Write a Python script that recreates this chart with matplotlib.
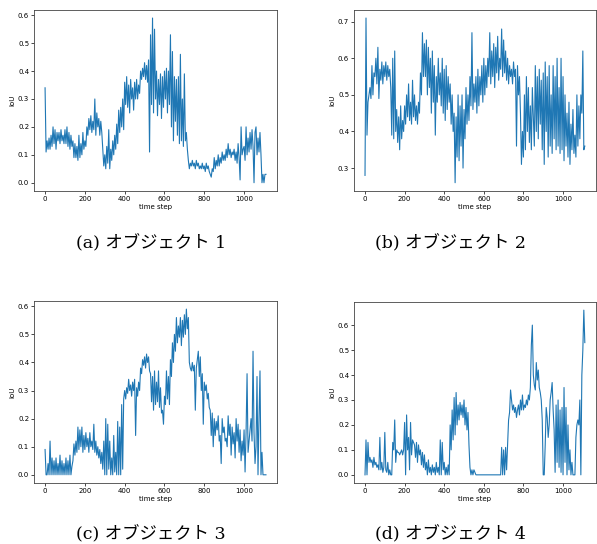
import matplotlib
matplotlib.use("Agg")
import matplotlib.pyplot as plt

# time step axis (sampled every 5 steps)
time_step = list(range(0, 1115, 5))

# IoU per object
iou_obj1 = [
    0.34, 0.11, 0.15, 0.12, 0.16, 0.12, 0.17, 0.13, 0.20, 0.14, 0.19, 0.12, 0.18, 0.15, 0.18, 0.14, 0.19, 0.15, 0.17, 0.14,
    0.19, 0.14, 0.20, 0.13, 0.18, 0.12, 0.17, 0.13, 0.15, 0.09, 0.14, 0.09, 0.13, 0.08, 0.17, 0.09, 0.14, 0.10, 0.18, 0.12,
    0.15, 0.13, 0.20, 0.17, 0.23, 0.19, 0.24, 0.18, 0.22, 0.19, 0.30, 0.17, 0.25, 0.20, 0.23, 0.17, 0.22, 0.18, 0.12, 0.06,
    0.10, 0.05, 0.13, 0.07, 0.19, 0.05, 0.12, 0.08, 0.15, 0.10, 0.17, 0.12, 0.21, 0.14, 0.26, 0.18, 0.27, 0.20, 0.30, 0.19,
    0.36, 0.28, 0.38, 0.27, 0.35, 0.25, 0.37, 0.30, 0.34, 0.26, 0.36, 0.30, 0.37, 0.30, 0.35, 0.32, 0.40, 0.37, 0.41, 0.38,
    0.43, 0.37, 0.42, 0.36, 0.44, 0.11, 0.53, 0.28, 0.59, 0.25, 0.55, 0.30, 0.40, 0.24, 0.37, 0.28, 0.39, 0.23, 0.38, 0.27,
    0.40, 0.30, 0.41, 0.25, 0.40, 0.28, 0.53, 0.20, 0.47, 0.15, 0.38, 0.22, 0.37, 0.17, 0.38, 0.14, 0.46, 0.15, 0.30, 0.13,
    0.39, 0.15, 0.18, 0.12, 0.08, 0.05, 0.07, 0.06, 0.08, 0.06, 0.07, 0.05, 0.08, 0.06, 0.07, 0.05, 0.06, 0.05, 0.07, 0.05,
    0.06, 0.04, 0.07, 0.05, 0.06, 0.04, 0.03, 0.02, 0.05, 0.04, 0.09, 0.05, 0.08, 0.06, 0.10, 0.06, 0.09, 0.07, 0.11, 0.08,
    0.10, 0.08, 0.12, 0.09, 0.14, 0.10, 0.12, 0.09, 0.11, 0.10, 0.12, 0.08, 0.11, 0.07, 0.14, 0.09, 0.01, 0.20, 0.10, 0.12,
    0.13, 0.08, 0.20, 0.10, 0.16, 0.11, 0.18, 0.12, 0.19, 0.13, 0.00, 0.18, 0.20, 0.10, 0.16, 0.11, 0.18, 0.10, 0.00, 0.03,
    0.00, 0.03, 0.03,
]
iou_obj2 = [
    0.28, 0.71, 0.39, 0.48, 0.50, 0.52, 0.49, 0.58, 0.50, 0.56, 0.55, 0.60, 0.53, 0.63, 0.49, 0.57, 0.54, 0.59, 0.53, 0.58,
    0.55, 0.59, 0.54, 0.58, 0.55, 0.57, 0.52, 0.39, 0.60, 0.38, 0.62, 0.40, 0.46, 0.37, 0.44, 0.35, 0.47, 0.38, 0.43, 0.40,
    0.47, 0.42, 0.50, 0.44, 0.53, 0.43, 0.48, 0.42, 0.54, 0.44, 0.50, 0.43, 0.47, 0.42, 0.48, 0.45, 0.56, 0.50, 0.67, 0.55,
    0.64, 0.55, 0.65, 0.50, 0.63, 0.52, 0.60, 0.45, 0.62, 0.48, 0.58, 0.39, 0.55, 0.48, 0.60, 0.50, 0.56, 0.47, 0.60, 0.45,
    0.57, 0.43, 0.58, 0.46, 0.55, 0.48, 0.53, 0.42, 0.50, 0.40, 0.45, 0.26, 0.44, 0.33, 0.50, 0.32, 0.47, 0.36, 0.50, 0.30,
    0.46, 0.38, 0.52, 0.42, 0.50, 0.43, 0.55, 0.47, 0.67, 0.46, 0.53, 0.48, 0.55, 0.45, 0.57, 0.47, 0.55, 0.50, 0.58, 0.48,
    0.60, 0.50, 0.58, 0.52, 0.60, 0.55, 0.67, 0.53, 0.62, 0.55, 0.64, 0.52, 0.63, 0.56, 0.66, 0.54, 0.60, 0.57, 0.68, 0.55,
    0.65, 0.56, 0.62, 0.54, 0.60, 0.53, 0.58, 0.55, 0.57, 0.53, 0.59, 0.55, 0.57, 0.36, 0.58, 0.50, 0.55, 0.45, 0.31, 0.40,
    0.33, 0.50, 0.35, 0.55, 0.40, 0.52, 0.37, 0.47, 0.35, 0.52, 0.44, 0.36, 0.58, 0.40, 0.55, 0.38, 0.57, 0.42, 0.54, 0.35,
    0.56, 0.31, 0.59, 0.40, 0.55, 0.33, 0.58, 0.36, 0.50, 0.34, 0.58, 0.38, 0.55, 0.35, 0.60, 0.36, 0.52, 0.34, 0.60, 0.35,
    0.55, 0.32, 0.50, 0.36, 0.45, 0.33, 0.48, 0.31, 0.42, 0.35, 0.46, 0.34, 0.39, 0.33, 0.50, 0.36, 0.47, 0.38, 0.50, 0.45,
    0.62, 0.35, 0.36,
]
iou_obj3 = [
    0.09, 0.00, 0.00, 0.04, 0.00, 0.12, 0.00, 0.06, 0.00, 0.05, 0.00, 0.06, 0.00, 0.04, 0.00, 0.07, 0.00, 0.05, 0.00, 0.04,
    0.00, 0.06, 0.00, 0.05, 0.00, 0.07, 0.00, 0.03, 0.05, 0.11, 0.07, 0.12, 0.08, 0.17, 0.09, 0.16, 0.10, 0.17, 0.08, 0.14,
    0.09, 0.15, 0.10, 0.13, 0.08, 0.15, 0.10, 0.12, 0.09, 0.18, 0.08, 0.12, 0.07, 0.10, 0.06, 0.09, 0.04, 0.08, 0.02, 0.12,
    0.00, 0.20, 0.00, 0.18, 0.02, 0.12, 0.00, 0.06, 0.00, 0.14, 0.01, 0.08, 0.00, 0.19, 0.00, 0.17, 0.00, 0.25, 0.02, 0.27,
    0.30, 0.27, 0.31, 0.29, 0.34, 0.30, 0.32, 0.28, 0.33, 0.30, 0.34, 0.14, 0.31, 0.28, 0.33, 0.30, 0.38, 0.36, 0.41, 0.39,
    0.42, 0.38, 0.43, 0.40, 0.42, 0.37, 0.36, 0.26, 0.35, 0.23, 0.37, 0.25, 0.33, 0.26, 0.37, 0.24, 0.31, 0.22, 0.23, 0.18,
    0.28, 0.25, 0.37, 0.27, 0.35, 0.25, 0.41, 0.35, 0.47, 0.40, 0.50, 0.44, 0.56, 0.47, 0.53, 0.49, 0.56, 0.46, 0.55, 0.49,
    0.57, 0.50, 0.59, 0.52, 0.56, 0.40, 0.38, 0.37, 0.40, 0.37, 0.39, 0.23, 0.38, 0.41, 0.44, 0.35, 0.42, 0.30, 0.36, 0.18,
    0.33, 0.30, 0.32, 0.27, 0.29, 0.24, 0.23, 0.14, 0.22, 0.10, 0.20, 0.14, 0.19, 0.16, 0.21, 0.12, 0.14, 0.04, 0.20, 0.15,
    0.17, 0.12, 0.13, 0.10, 0.21, 0.14, 0.18, 0.07, 0.17, 0.11, 0.15, 0.06, 0.20, 0.12, 0.18, 0.08, 0.16, 0.05, 0.12, 0.07,
    0.16, 0.01, 0.15, 0.36, 0.08, 0.12, 0.16, 0.20, 0.12, 0.44, 0.15, 0.04, 0.10, 0.35, 0.00, 0.20, 0.37, 0.00, 0.08, 0.00,
    0.00, 0.00, 0.00,
]
iou_obj4 = [
    0.00, 0.14, 0.00, 0.13, 0.05, 0.07, 0.05, 0.06, 0.03, 0.07, 0.04, 0.05, 0.03, 0.04, 0.02, 0.15, 0.02, 0.05, 0.01, 0.03,
    0.17, 0.02, 0.01, 0.05, 0.00, 0.02, 0.00, 0.00, 0.13, 0.10, 0.22, 0.05, 0.10, 0.09, 0.09, 0.08, 0.09, 0.10, 0.08, 0.10,
    0.21, 0.00, 0.24, 0.10, 0.15, 0.02, 0.21, 0.08, 0.14, 0.13, 0.12, 0.07, 0.13, 0.05, 0.12, 0.08, 0.10, 0.04, 0.09, 0.03,
    0.08, 0.02, 0.05, 0.00, 0.06, 0.01, 0.03, 0.00, 0.04, 0.01, 0.03, 0.00, 0.05, 0.01, 0.03, 0.00, 0.14, 0.00, 0.13, 0.02,
    0.05, 0.00, 0.03, 0.00, 0.04, 0.00, 0.20, 0.10, 0.26, 0.14, 0.31, 0.16, 0.33, 0.20, 0.28, 0.22, 0.29, 0.24, 0.28, 0.23,
    0.30, 0.20, 0.27, 0.18, 0.25, 0.12, 0.03, 0.00, 0.02, 0.00, 0.02, 0.01, 0.00, 0.00, 0.00, 0.00, 0.00, 0.00, 0.00, 0.00,
    0.00, 0.00, 0.00, 0.00, 0.00, 0.00, 0.00, 0.00, 0.00, 0.00, 0.00, 0.00, 0.00, 0.00, 0.00, 0.00, 0.00, 0.00, 0.11, 0.00,
    0.10, 0.00, 0.11, 0.02, 0.12, 0.22, 0.25, 0.34, 0.30, 0.26, 0.28, 0.25, 0.27, 0.23, 0.26, 0.28, 0.24, 0.30, 0.26, 0.32,
    0.26, 0.28, 0.27, 0.30, 0.28, 0.32, 0.30, 0.35, 0.52, 0.60, 0.40, 0.36, 0.34, 0.45, 0.38, 0.42, 0.35, 0.33, 0.30, 0.22,
    0.00, 0.00, 0.12, 0.27, 0.23, 0.15, 0.20, 0.30, 0.33, 0.37, 0.26, 0.18, 0.01, 0.28, 0.05, 0.30, 0.03, 0.26, 0.01, 0.27,
    0.00, 0.35, 0.05, 0.27, 0.00, 0.20, 0.02, 0.10, 0.00, 0.05, 0.00, 0.00, 0.00, 0.15, 0.20, 0.22, 0.20, 0.30, 0.00, 0.40,
    0.50, 0.66, 0.53,
]

captions = ["(a) オブジェクト 1", "(b) オブジェクト 2", "(c) オブジェクト 3", "(d) オブジェクト 4"]
series = [iou_obj1, iou_obj2, iou_obj3, iou_obj4]

# axes boxes [left, bottom, width, height] in figure fraction
boxes = [
    [0.057, 0.649, 0.407, 0.333],
    [0.593, 0.649, 0.405, 0.333],
    [0.057, 0.112, 0.407, 0.335],
    [0.593, 0.112, 0.405, 0.333],
]
cap_pos = [(0.253, 0.553), (0.755, 0.553), (0.253, 0.017), (0.755, 0.017)]

fig = plt.figure(figsize=(5.97, 5.44), dpi=100)
for vals, box, cap, (cx, cy) in zip(series, boxes, captions, cap_pos):
    ax = fig.add_axes(box)
    ax.plot(time_step, vals, color="#1f77b4", lw=0.8)
    ax.set_xticks([0, 200, 400, 600, 800, 1000])
    ax.tick_params(labelsize=5, length=2, width=0.5, pad=1.5)
    ax.set_xlabel("time step", fontsize=5, labelpad=1.5)
    ax.set_ylabel("IoU", fontsize=5, labelpad=2)
    for sp in ax.spines.values():
        sp.set_linewidth(0.6)
        sp.set_color("#444444")
    fig.text(cx, cy, cap, ha="center", va="center", fontsize=12.5,
             family=["DejaVu Serif", "Noto Sans CJK JP"])

fig.savefig("out.png", dpi=100)
